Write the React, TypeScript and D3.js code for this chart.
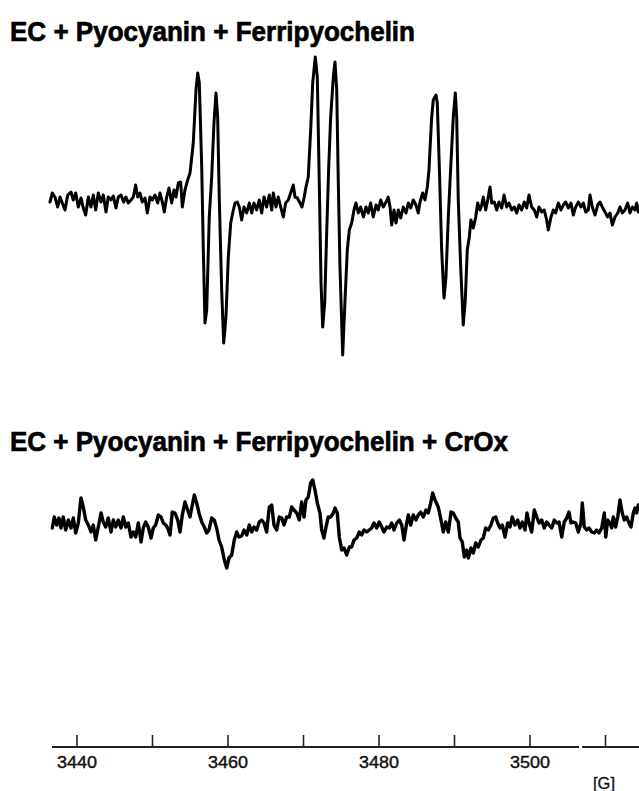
import React from "react";
import * as d3 from "d3";

// ---- Data (field in gauss, signal in arbitrary units) ----
const titles = [
  "EC + Pyocyanin + Ferripyochelin",
  "EC + Pyocyanin + Ferripyochelin + CrOx",
];

const topField = [
  3436.42, 3436.73, 3437.08, 3437.44, 3437.75, 3438.05, 3438.41, 3438.77, 3439.2, 3439.51,
  3439.83, 3440.17, 3440.53, 3440.83, 3441.15, 3441.5, 3441.85, 3442.16, 3442.48, 3442.82,
  3443.18, 3443.48, 3443.84, 3444.14, 3444.5, 3444.81, 3445.16, 3445.47, 3445.83, 3446.18,
  3446.49, 3446.79, 3447.15, 3447.46, 3447.77, 3448.04, 3448.34, 3448.65, 3449.01, 3449.31,
  3449.67, 3449.97, 3450.33, 3450.69, 3450.99, 3451.3, 3451.56, 3451.88, 3452.18, 3452.54,
  3452.85, 3453.11, 3453.42, 3453.73, 3453.95, 3454.3, 3454.66, 3454.97, 3455.4, 3455.76,
  3455.99, 3456.2, 3456.52, 3456.73, 3456.95, 3457.18, 3457.52, 3457.84, 3458.14, 3458.41,
  3458.63, 3458.85, 3459.16, 3459.43, 3459.73, 3460.04, 3460.36, 3460.62, 3460.93, 3461.23,
  3461.5, 3461.81, 3462.12, 3462.48, 3462.82, 3463.14, 3463.44, 3463.8, 3464.14, 3464.46,
  3464.77, 3465.12, 3465.47, 3465.79, 3466.0, 3466.36, 3466.66, 3466.98, 3467.32, 3467.64,
  3467.99, 3468.3, 3468.65, 3468.87, 3469.18, 3469.54, 3469.8, 3470.07, 3470.33, 3470.63,
  3470.95, 3471.22, 3471.56, 3471.83, 3472.09, 3472.32, 3472.54, 3472.81, 3473.07, 3473.34,
  3473.6, 3473.95, 3474.17, 3474.4, 3474.61, 3474.83, 3475.19, 3475.5, 3475.8, 3476.07,
  3476.38, 3476.69, 3476.95, 3477.26, 3477.58, 3477.92, 3478.28, 3478.58, 3478.9, 3479.24,
  3479.6, 3479.91, 3480.22, 3480.57, 3480.93, 3481.23, 3481.46, 3481.68, 3481.99, 3482.25,
  3482.56, 3482.87, 3483.22, 3483.58, 3483.88, 3484.2, 3484.54, 3484.9, 3485.2, 3485.43,
  3485.79, 3486.09, 3486.4, 3486.62, 3486.75, 3486.98, 3487.19, 3487.55, 3487.72, 3487.99,
  3488.3, 3488.61, 3488.87, 3489.18, 3489.5, 3489.84, 3490.11, 3490.29, 3490.5, 3490.82,
  3491.16, 3491.43, 3491.69, 3491.96, 3492.18, 3492.49, 3492.81, 3493.07, 3493.38, 3493.6,
  3493.81, 3494.13, 3494.4, 3494.7, 3494.93, 3495.27, 3495.59, 3495.89, 3496.25, 3496.56,
  3496.91, 3497.22, 3497.58, 3497.92, 3498.24, 3498.54, 3498.9, 3499.24, 3499.56, 3499.87,
  3500.22, 3500.57, 3500.89, 3501.19, 3501.55, 3501.89, 3502.21, 3502.42, 3502.78, 3503.09,
  3503.4, 3503.75, 3504.11, 3504.41, 3504.73, 3505.07, 3505.43, 3505.73, 3506.05, 3506.4,
  3506.75, 3507.06, 3507.38, 3507.72, 3507.95, 3508.25, 3508.61, 3508.97, 3509.27, 3509.58,
  3509.93, 3510.29, 3510.6, 3510.9, 3511.26, 3511.62, 3511.92, 3512.22, 3512.58, 3512.94,
  3513.24, 3513.55, 3513.91, 3514.13, 3514.34,
];

const topSignal = [
  1, 10, 6, -4, 6, 0, -7, 8, 11, 3,
  10, -4, 5, -5, -12, 6, -4, 8, -7, 10,
  1, 8, -9, 6, 3, 7, -5, 6, 8, 1,
  6, 0, 3, 6, 18, 6, 10, 1, 5, -10,
  6, 3, 8, 0, 10, 1, -9, 6, 15, 0,
  13, 6, 20, 21, -4, 13, 23, 30, 60, 113,
  130, 120, 36, -47, -120, -107, -14, 26, 80, 110,
  86, 3, -87, -140, -114, -54, -20, -10, 0, 1,
  -4, -17, -4, -10, 0, -10, 0, -7, 3, -10,
  6, -4, 8, -7, 10, -4, 6, -4, -14, 0,
  3, 10, 18, 6, 5, 0, -4, 5, 16, 26,
  73, 120, 146, 126, 20, -80, -124, -100, -30, 36,
  86, 126, 141, 113, 20, -64, -152, -97, -47, -27,
  -20, -7, 0, -10, -4, -14, -4, -10, 0, -14,
  -2, -7, 3, -4, 1, 6, -4, -22, -7, -20,
  -7, -15, -4, -10, 0, -5, 3, -2, -10, 1,
  10, 3, 16, 33, 53, 86, 103, 108, 100, 36,
  -47, -95, -74, -14, 36, 86, 110, 86, 3, -64,
  -122, -97, -47, -34, -17, -25, -14, 0, -7, -2,
  6, -7, 3, 16, 0, 1, -7, 1, -5, 8,
  -4, 0, -7, -4, -10, -2, -7, 1, -5, 8,
  -4, -7, -14, -4, -9, -7, -17, -27, -14, -7,
  -10, 0, -7, -2, 1, -5, 0, -12, -4, 1,
  -4, 0, -9, -7, 8, -4, -12, -2, 1, -4,
  -9, -14, -10, -22, -14, -10, -4, -10, -7, 0,
  -10, -4, -7, 0, -9,
];

const bottomField = [
  3436.73, 3436.99, 3437.31, 3437.61, 3437.88, 3438.18, 3438.5, 3438.85, 3439.2, 3439.51,
  3439.83, 3440.17, 3440.53, 3440.83, 3441.15, 3441.5, 3441.85, 3442.16, 3442.48, 3442.82,
  3443.18, 3443.48, 3443.8, 3444.14, 3444.5, 3444.81, 3445.13, 3445.47, 3445.83, 3446.13,
  3446.45, 3446.79, 3447.15, 3447.46, 3447.77, 3448.12, 3448.48, 3448.78, 3449.1, 3449.44,
  3449.8, 3450.11, 3450.42, 3450.77, 3451.13, 3451.43, 3451.75, 3452.01, 3452.32, 3452.62,
  3452.98, 3453.34, 3453.64, 3453.95, 3454.3, 3454.66, 3454.97, 3455.19, 3455.54, 3455.85,
  3456.16, 3456.52, 3456.86, 3457.18, 3457.48, 3457.84, 3458.18, 3458.5, 3458.81, 3459.16,
  3459.51, 3459.83, 3460.13, 3460.49, 3460.83, 3461.15, 3461.46, 3461.81, 3462.12, 3462.48,
  3462.82, 3463.14, 3463.44, 3463.8, 3464.14, 3464.46, 3464.77, 3465.12, 3465.47, 3465.79,
  3466.09, 3466.45, 3466.79, 3467.11, 3467.42, 3467.77, 3468.12, 3468.44, 3468.74, 3469.1,
  3469.44, 3469.76, 3470.07, 3470.33, 3470.63, 3470.95, 3471.22, 3471.52, 3471.83, 3472.18,
  3472.41, 3472.71, 3472.98, 3473.28, 3473.6, 3473.95, 3474.17, 3474.48, 3474.74, 3475.06,
  3475.36, 3475.72, 3476.07, 3476.38, 3476.69, 3477.05, 3477.39, 3477.71, 3478.01, 3478.37,
  3478.71, 3479.03, 3479.34, 3479.69, 3480.04, 3480.36, 3480.66, 3481.02, 3481.36, 3481.68,
  3481.99, 3482.34, 3482.69, 3483.01, 3483.31, 3483.67, 3483.88, 3484.2, 3484.54, 3484.9,
  3485.2, 3485.52, 3485.87, 3486.22, 3486.53, 3486.85, 3487.11, 3487.42, 3487.85, 3488.21,
  3488.52, 3488.83, 3489.18, 3489.54, 3489.84, 3490.16, 3490.5, 3490.73, 3491.03, 3491.3,
  3491.62, 3491.83, 3492.18, 3492.49, 3492.81, 3493.15, 3493.51, 3493.81, 3494.13, 3494.48,
  3494.83, 3495.14, 3495.46, 3495.72, 3496.03, 3496.33, 3496.69, 3497.05, 3497.35, 3497.65,
  3498.01, 3498.37, 3498.67, 3498.98, 3499.34, 3499.6, 3499.87, 3500.22, 3500.57, 3500.89,
  3501.19, 3501.55, 3501.89, 3502.21, 3502.52, 3502.87, 3503.22, 3503.54, 3503.84, 3504.2,
  3504.54, 3504.86, 3505.16, 3505.43, 3505.73, 3506.05, 3506.4, 3506.75, 3506.93, 3507.19,
  3507.51, 3507.81, 3508.17, 3508.52, 3508.83, 3509.14, 3509.5, 3509.84, 3510.03, 3510.29,
  3510.6, 3510.82, 3511.03, 3511.35, 3511.62, 3511.92, 3512.22, 3512.49, 3512.81, 3513.11,
  3513.38, 3513.68, 3513.91, 3514.13, 3514.34,
];

const bottomSignal = [
  -6, 5, -3, 4, -6, 5, -8, 2, -6, 4,
  -11, -1, 24, 15, 2, -3, -10, -3, -18, -5,
  9, 0, -5, 4, -10, 2, -5, 2, -6, 5,
  -5, -1, -15, -10, -15, -1, -20, -6, 0, -5,
  -16, -6, -3, 7, 5, -1, -3, -6, -13, 10,
  9, 2, -10, 7, 20, 12, 5, 14, 27, 19,
  9, 0, -5, -11, -8, 4, 2, -6, -18, -25,
  -38, -46, -36, -33, -18, -10, -15, -14, -8, -13,
  -3, -10, -5, -8, 0, 2, -1, -10, 15, 17,
  -3, -8, 5, 4, -3, 5, 5, 15, 12, 9,
  2, 20, 5, 22, 25, 39, 42, 32, 19, 9,
  -8, -16, -5, 5, 5, 9, 14, 9, -15, -28,
  -26, -33, -25, -25, -18, -16, -10, -13, -8, -10,
  -8, -6, -1, -6, 0, -5, -10, -5, -6, -1,
  -8, -1, 2, -3, -18, -1, 7, -3, 7, 2,
  7, 10, 5, 12, 9, 19, 29, 22, 15, 2,
  -10, 0, -10, 10, 9, 4, 0, -16, -20, -35,
  -28, -36, -26, -31, -21, -25, -18, -16, -6, -8,
  -3, 4, 5, -1, -6, -3, -15, -1, -5, 5,
  -3, 2, -6, 0, -8, 9, -1, -10, 12, 5,
  -1, 2, -6, 0, -3, -6, 2, -1, 0, -15,
  0, 4, 10, -1, 0, -1, -10, -1, 19, -5,
  -8, -6, -10, -11, -8, -11, -6, 9, -15, 2,
  -1, -6, 5, -5, 5, 22, 9, 2, 5, -1,
  -5, 9, 14, 9, 17,
];

const majorTicks = [3440, 3450, 3460, 3470, 3480, 3490, 3500, 3510];
const tickLabels = [3440, 3460, 3480, 3500];
const unitLabel = "[G]";

const W = 639;
const H = 791;

export default function App() {
  const x = d3.scaleLinear().domain([3440, 3500]).range([77, 530]);
  const yTop = d3.scaleLinear().domain([-160, 160]).range([363, 43]);
  const yBot = d3.scaleLinear().domain([-160, 160]).range([682, 362]);

  const topData = topField.map((f, i) => [f, topSignal[i]] as [number, number]);
  const botData = bottomField.map((f, i) => [f, bottomSignal[i]] as [number, number]);

  const lineTop = d3
    .line<[number, number]>()
    .x((d) => x(d[0]))
    .y((d) => yTop(d[1]));
  const lineBot = d3
    .line<[number, number]>()
    .x((d) => x(d[0]))
    .y((d) => yBot(d[1]));

  const axisY = 747;
  const axisStart = 52;
  const gapA = x(3506.5);
  const gapB = x(3506.9);

  const titleFont = "'Liberation Sans Narrow', 'Liberation Sans', Arial, sans-serif";
  const tickFont = "'Liberation Sans', Arial, sans-serif";

  return (
    <svg
      width={W}
      height={H}
      viewBox={`0 0 ${W} ${H}`}
      style={{ position: "absolute", left: 0, top: 0, background: "#fff" }}
    >
      <defs>
        <clipPath id="plotclip">
          <rect x={0} y={0} width={W} height={H} />
        </clipPath>
      </defs>

      <text
        x={10}
        y={41}
        fontFamily={titleFont}
        fontWeight="bold"
        fontSize={28}
        textLength={405}
        lengthAdjust="spacingAndGlyphs"
        fill="#000"
        stroke="#000"
        strokeWidth={0.7}
      >
        {titles[0]}
      </text>
      <text
        x={10}
        y={451}
        fontFamily={titleFont}
        fontWeight="bold"
        fontSize={28}
        textLength={498}
        lengthAdjust="spacingAndGlyphs"
        fill="#000"
        stroke="#000"
        strokeWidth={0.7}
      >
        {titles[1]}
      </text>

      <g clipPath="url(#plotclip)">
        <path
          d={lineTop(topData) || ""}
          fill="none"
          stroke="#000"
          strokeWidth={3}
          strokeLinejoin="round"
          strokeLinecap="round"
        />
        <path
          d={lineBot(botData) || ""}
          fill="none"
          stroke="#000"
          strokeWidth={3.4}
          strokeLinejoin="round"
          strokeLinecap="round"
        />
      </g>

      {/* field axis */}
      <line x1={axisStart} x2={gapA} y1={axisY} y2={axisY} stroke="#222" strokeWidth={1.8} />
      <line x1={gapB} x2={W} y1={axisY} y2={axisY} stroke="#222" strokeWidth={1.8} />
      {majorTicks.map((t) => (
        <line
          key={t}
          x1={x(t)}
          x2={x(t)}
          y1={axisY}
          y2={axisY - 12}
          stroke="#222"
          strokeWidth={1.6}
        />
      ))}
      {tickLabels.map((t) => (
        <text
          key={t}
          x={x(t)}
          y={768}
          textAnchor="middle"
          fontFamily={tickFont}
          fontSize={16}
          textLength={40}
          lengthAdjust="spacingAndGlyphs"
          fill="#111"
          stroke="#111"
          strokeWidth={0.4}
        >
          {t}
        </text>
      ))}
      <text
        x={593}
        y={789}
        fontFamily={tickFont}
        fontSize={16}
        textLength={22}
        lengthAdjust="spacingAndGlyphs"
        fill="#111"
        stroke="#111"
        strokeWidth={0.3}
      >
        {unitLabel}
      </text>
    </svg>
  );
}
